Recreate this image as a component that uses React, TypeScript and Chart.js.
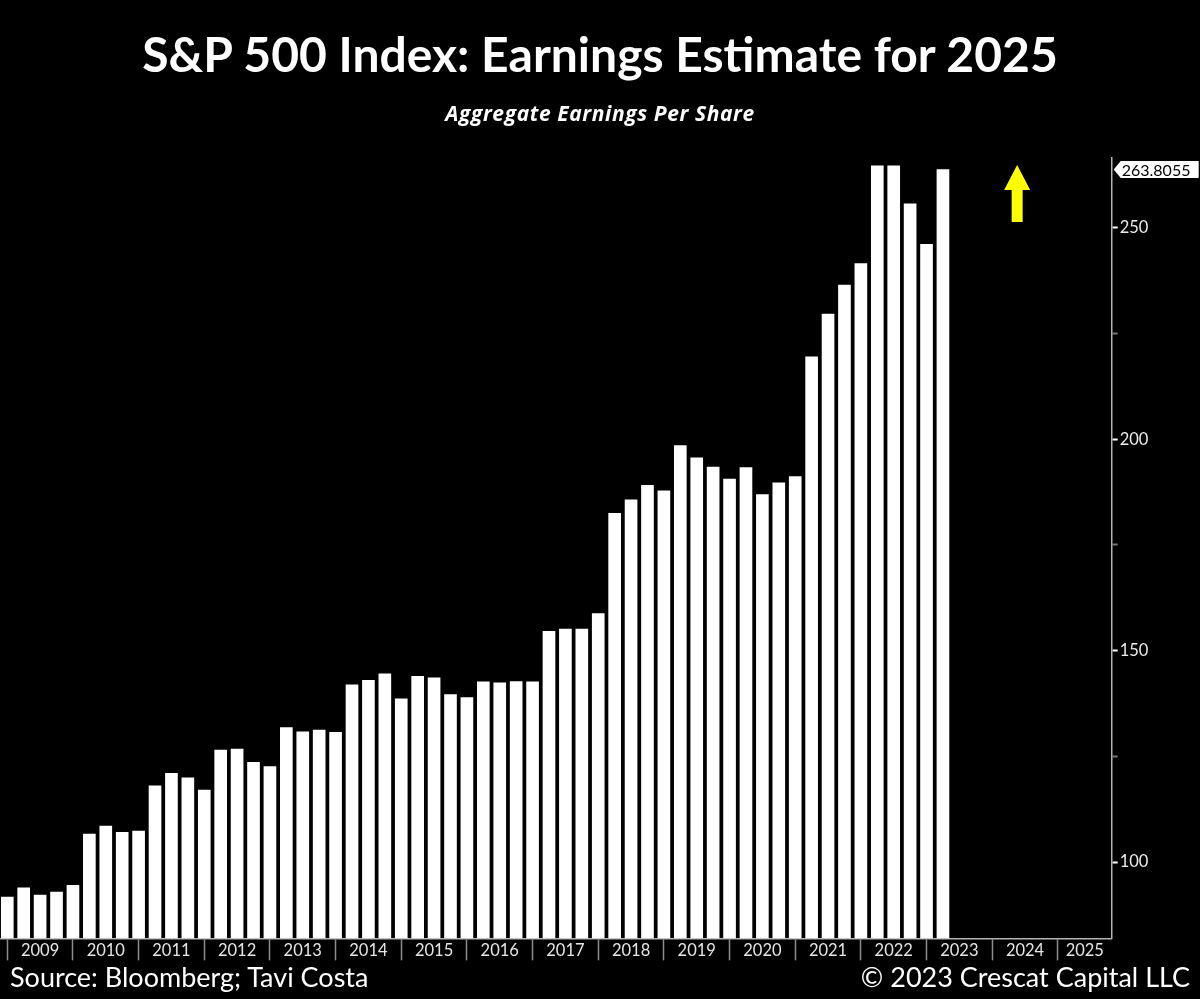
import { useEffect, useRef } from 'react';
import { Chart, registerables } from 'chart.js';

Chart.register(...registerables);

// Quarter-end periods of the estimate history
const periods = [
  '2008-12',
  '2009-03', '2009-06', '2009-09', '2009-12',
  '2010-03', '2010-06', '2010-09', '2010-12',
  '2011-03', '2011-06', '2011-09', '2011-12',
  '2012-03', '2012-06', '2012-09', '2012-12',
  '2013-03', '2013-06', '2013-09', '2013-12',
  '2014-03', '2014-06', '2014-09', '2014-12',
  '2015-03', '2015-06', '2015-09', '2015-12',
  '2016-03', '2016-06', '2016-09', '2016-12',
  '2017-03', '2017-06', '2017-09', '2017-12',
  '2018-03', '2018-06', '2018-09', '2018-12',
  '2019-03', '2019-06', '2019-09', '2019-12',
  '2020-03', '2020-06', '2020-09', '2020-12',
  '2021-03', '2021-06', '2021-09', '2021-12',
  '2022-03', '2022-06', '2022-09', '2022-12',
  '2023-03',
];

// Aggregate EPS estimate for 2025
const epsValues = [
  91.7,
  93.9, 92.2, 92.9, 94.5,
  106.6, 108.5, 107.0, 107.3,
  118.0, 121.0, 119.9, 117.0,
  126.5, 126.7, 123.6, 122.6,
  131.8, 130.8, 131.2, 130.7,
  141.9, 143.0, 144.5, 138.6,
  143.9, 143.6, 139.6, 138.9,
  142.6, 142.4, 142.7, 142.6,
  154.6, 155.1, 155.1, 158.8,
  182.5, 185.7, 189.1, 187.8,
  198.5, 195.6, 193.4, 190.6,
  193.3, 186.9, 189.7, 191.2,
  219.5, 229.6, 236.5, 241.6,
  264.7, 264.7, 255.7, 246.1,
  263.8055,
];

const yearLabels = [
  '2009', '2010', '2011', '2012', '2013', '2014', '2015', '2016', '2017',
  '2018', '2019', '2020', '2021', '2022', '2023', '2024', '2025',
];

const yTickValues = [100, 125, 150, 175, 200, 225, 250];
const yLabeledTicks = [100, 150, 200, 250];

const xAxisStart = 2008.889;
const xAxisEnd = 2025.82;
const yAxisMin = 81.95;
const yAxisMax = 266.55;

// Yellow arrow annotation (data coordinates)
const arrowX = 2024.38;
const arrowFromY = 251.4;
const arrowToY = 264.9;

function periodToX(p: string): number {
  const [y, m] = p.split('-').map(Number);
  return y + m / 12;
}

export default function App() {
  const canvasRef = useRef<HTMLCanvasElement | null>(null);

  useEffect(() => {
    document.body.style.margin = '0';
    document.body.style.background = '#000';
    const canvas = canvasRef.current;
    if (!canvas) return;

    const points = periods.map((p, i) => ({ x: periodToX(p), y: epsValues[i] }));

    const yearStarts = yearLabels.map(Number);
    const labelMap = new Map<number, string>();
    const xTicks: number[] = [];
    yearStarts.forEach((ys, i) => {
      xTicks.push(ys);
      const c = (ys + Math.min(ys + 1, xAxisEnd)) / 2;
      xTicks.push(c);
      labelMap.set(c, yearLabels[i]);
    });
    xTicks.sort((a, b) => a - b);

    const lastValue = epsValues[epsValues.length - 1];

    const overlayPlugin = {
      id: 'overlay',
      afterDraw(chart: any) {
        const ctx = chart.ctx as CanvasRenderingContext2D;
        const xs = chart.scales.x;
        const ys = chart.scales.y;
        const area = chart.chartArea;

        // last value tag
        const ty = ys.getPixelForValue(lastValue);
        const tx = area.right + 2;
        const h = 8.5;
        const w = 85;
        ctx.save();
        ctx.fillStyle = '#ffffff';
        ctx.beginPath();
        ctx.moveTo(tx, ty);
        ctx.lineTo(tx + 7, ty - h);
        ctx.lineTo(tx + w, ty - h);
        ctx.lineTo(tx + w, ty + h);
        ctx.lineTo(tx + 7, ty + h);
        ctx.closePath();
        ctx.fill();
        ctx.fillStyle = '#000000';
        ctx.font = '16px Lato';
        ctx.textBaseline = 'middle';
        ctx.textAlign = 'left';
        ctx.fillText(lastValue.toFixed(4), tx + 8, ty + 1);
        ctx.restore();

        // yellow arrow
        const ax = xs.getPixelForValue(arrowX);
        const yTip = ys.getPixelForValue(arrowToY);
        const yBase = ys.getPixelForValue(arrowFromY);
        const headH = 25;
        const headW = 13;
        const shaftW = 5.5;
        ctx.save();
        ctx.fillStyle = '#ffff00';
        ctx.beginPath();
        ctx.moveTo(ax, yTip);
        ctx.lineTo(ax + headW, yTip + headH);
        ctx.lineTo(ax + shaftW, yTip + headH);
        ctx.lineTo(ax + shaftW, yBase);
        ctx.lineTo(ax - shaftW, yBase);
        ctx.lineTo(ax - shaftW, yTip + headH);
        ctx.lineTo(ax - headW, yTip + headH);
        ctx.closePath();
        ctx.fill();
        ctx.restore();
      },
    };

    const chart = new Chart(canvas, {
      type: 'bar',
      data: {
        datasets: [
          {
            data: points as any,
            backgroundColor: '#ffffff',
            borderWidth: 0,
            barThickness: 12,
          },
        ],
      },
      options: {
        animation: false,
        responsive: false,
        devicePixelRatio: 1,
        layout: { padding: { top: 158, bottom: 30.7, left: 0, right: 0 } },
        plugins: {
          legend: { display: false },
          tooltip: { enabled: false },
          title: { display: false },
        },
        scales: {
          x: {
            type: 'linear',
            min: xAxisStart,
            max: xAxisEnd,
            offset: false,
            afterBuildTicks: (scale: any) => {
              scale.ticks = xTicks.map((v) => ({ value: v }));
            },
            afterFit: (scale: any) => {
              scale.height = 30;
            },
            grid: {
              offset: false,
              drawOnChartArea: false,
              drawTicks: true,
              tickLength: 22,
              tickWidth: 1.5,
              tickColor: (ctx: any) =>
                ctx.tick && Number.isInteger(ctx.tick.value) ? '#8c8c8c' : 'rgba(0,0,0,0)',
            },
            border: { display: true, color: '#b4b4b4', width: 1.5 },
            ticks: {
              autoSkip: false,
              maxRotation: 0,
              minRotation: 0,
              padding: -20,
              color: '#e6e6e6',
              font: { family: 'Lato', size: 16.5 },
              callback: (value: any) => labelMap.get(Number(value)) ?? '',
            },
          },
          y: {
            type: 'linear',
            position: 'right',
            min: yAxisMin,
            max: yAxisMax,
            afterBuildTicks: (scale: any) => {
              scale.ticks = yTickValues.map((v) => ({ value: v }));
            },
            afterFit: (scale: any) => {
              scale.width = 88.3;
            },
            grid: {
              drawOnChartArea: false,
              drawTicks: true,
              tickLength: 6,
              tickWidth: 2,
              tickColor: (ctx: any) =>
                ctx.tick && yLabeledTicks.includes(ctx.tick.value) ? '#ffffff' : '#777777',
            },
            border: { display: true, color: '#b4b4b4', width: 1.5 },
            ticks: {
              padding: 2,
              color: '#ececec',
              font: { family: 'Lato', size: 16.5 },
              callback: (value: any) =>
                yLabeledTicks.includes(Number(value)) ? String(value) : '',
            },
          },
        },
      },
      plugins: [overlayPlugin],
    });

    return () => {
      chart.destroy();
    };
  }, []);

  const textBase: React.CSSProperties = {
    position: 'absolute',
    color: '#ffffff',
    fontFamily: 'Lato, sans-serif',
    whiteSpace: 'nowrap',
    margin: 0,
  };

  return (
    <div
      style={{
        position: 'fixed',
        left: 0,
        top: 0,
        width: 1200,
        height: 999,
        background: '#000000',
        overflow: 'hidden',
      }}
    >
      <canvas
        ref={canvasRef}
        width={1200}
        height={999}
        style={{ position: 'absolute', left: 0, top: 0, width: 1200, height: 999 }}
      />
      <div
        style={{
          ...textBase,
          left: 0,
          width: 1200,
          textAlign: 'center',
          top: 30,
          fontSize: 48,
          lineHeight: '48px',
          fontWeight: 700,
        }}
      >
        S&amp;P 500 Index: Earnings Estimate for 2025
      </div>
      <div
        style={{
          ...textBase,
          left: 0,
          width: 1200,
          textAlign: 'center',
          top: 103,
          fontSize: 21,
          lineHeight: '21px',
          fontWeight: 700,
          fontStyle: 'italic',
          fontFamily: '"Open Sans", sans-serif',
          letterSpacing: '0.6px',
        }}
      >
        Aggregate Earnings Per Share
      </div>
      <div
        style={{
          ...textBase,
          left: 10,
          top: 963,
          fontSize: 27,
          lineHeight: '27px',
        }}
      >
        Source: Bloomberg; Tavi Costa
      </div>
      <div
        style={{
          ...textBase,
          right: 10,
          top: 963,
          fontSize: 27,
          lineHeight: '27px',
        }}
      >
        © 2023 Crescat Capital LLC
      </div>
    </div>
  );
}
